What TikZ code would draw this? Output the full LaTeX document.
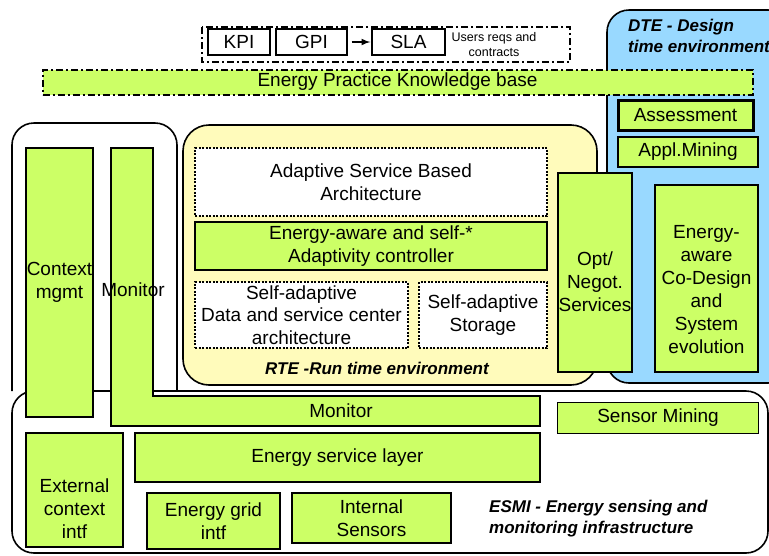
\documentclass[tikz,border=0pt]{standalone}
\usepackage{fontspec}
\setmainfont{Liberation Sans}
\usepackage{xcolor}
\usepackage{tikz}
\usetikzlibrary{arrows}

\definecolor{limegreen}{RGB}{204,255,102}
\definecolor{dteblue}{RGB}{153,217,255}
\definecolor{rteyellow}{RGB}{255,251,187}

\begin{document}
\begin{tikzpicture}[x=1pt,y=-1pt,
	box/.style={draw,fill=limegreen,line width=1.8pt,inner sep=0pt,align=center,font=\fontsize{19}{22.5}\selectfont},
	dotbox/.style={draw,fill=white,line width=2pt,dash pattern=on 2pt off 1.5pt,inner sep=0pt,align=center,font=\fontsize{19}{22.5}\selectfont},
	dashdot/.style={line width=2pt,dash pattern=on 7pt off 3pt on 2pt off 3pt},
	txt/.style={inner sep=0pt,align=center,font=\fontsize{19}{23}\selectfont},
	envlabel/.style={inner sep=0pt,align=left,font=\fontsize{17}{21}\selectfont\bfseries\itshape}]
\useasboundingbox (0,0) rectangle (769,555);
		% environments
		\coordinate (D1) at (607,10);
		\coordinate (D2) at (790,383);
		\coordinate (R1) at (183,125);
		\coordinate (R2) at (597,385);
		\coordinate (E1) at (12,391);
		\coordinate (E2) at (768,553);
		\draw[fill=dteblue,line width=1.6pt,rounded corners=22pt] (D1) rectangle (D2);
		\draw[fill=rteyellow,line width=1.6pt,rounded corners=26pt] (R1) rectangle (R2);
		\node[envlabel,anchor=west] (dte) at (628,36) {DTE - Design\\time environment};
		% indicators
		\draw[dashdot,fill=white] (202,27) rectangle (570,62);
		\node[box,fill=white,line width=1.4pt,minimum width=62pt,minimum height=26pt] (kpi) at (239,42) {KPI};
		\node[box,fill=white,line width=1.4pt,minimum width=71pt,minimum height=26pt] (gpi) at (311.5,42) {GPI};
		\node[box,fill=white,line width=1.4pt,minimum width=73pt,minimum height=26pt] (sla) at (408.5,42) {SLA};
		\draw[-latex,line width=2pt,shorten <=4pt,shorten >=1pt] (gpi) -- (sla);
		\node[txt,font=\fontsize{12.5}{15}\selectfont] (users) at (494,45) {Users reqs and\\contracts};
		\node[box,dashdot,minimum width=710pt,minimum height=25pt] (kb) at (397.5,82) {Energy Practice Knowledge base};
		% design time
		\node[box,line width=3pt,minimum width=135pt,minimum height=30pt] (assess) at (685.5,115) {Assessment};
		\node[box,minimum width=140pt,minimum height=30pt] (mining) at (688,152) {Appl.Mining};
		\node[box,minimum width=103pt,minimum height=187pt] (codesign) at (706.5,278.5) {};
		\node[txt] (codesignlbl) at (706.5,290) {Energy-\\aware\\Co-Design\\and\\System\\evolution};
		\node[box,minimum width=74pt,minimum height=199pt] (opt) at (595,272.5) {};
		\node[txt] (optlbl) at (595,282) {Opt/\\Negot.\\Services};
		% run time
		\node[dotbox,minimum width=352pt,minimum height=68pt] (asba) at (371,182) {Adaptive Service Based\\Architecture};
		\node[box,minimum width=352pt,minimum height=48pt] (ctrl) at (371,246) {Energy-aware and self-*\\Adaptivity controller};
		\node[dotbox,minimum width=213pt,minimum height=66pt] (data) at (301.5,315) {Self-adaptive\\Data and service center\\architecture};
		\node[dotbox,minimum width=128pt,minimum height=66pt] (storage) at (483,315) {Self-adaptive\\Storage};
		\node[envlabel,align=center] (rte) at (377,368) {RTE -Run time environment};
		% monitoring
		\draw[line width=1.6pt,rounded corners=22pt] (E1) -- (12,123) -- (177,123) -- (177,391);
		\draw[line width=1.6pt,rounded corners=22pt] (E1) rectangle (E2);
		\node[box,minimum width=67pt,minimum height=269pt] (context) at (59.5,282.5) {Context\\mgmt};
		\draw[fill=limegreen,line width=1.8pt] (111,148) -- (153,148) -- (153,396) -- (540,396) -- (540,426) -- (111,426) -- cycle;
		\node[txt] (monv) at (133,290) {Monitor};
		\node[txt] (monh) at (341,411) {Monitor};
		\node[box,minimum width=201pt,minimum height=31pt] (sensmin) at (658,418) {Sensor Mining};
		\node[box,minimum width=405pt,minimum height=49pt] (esl) at (337.5,457.5) {Energy service layer};
		\node[box,minimum width=97pt,minimum height=114pt] (ext) at (74.5,490) {};
		\node[txt] (extlbl) at (74.5,509) {External\\context\\intf};
		\node[box,minimum width=133pt,minimum height=56pt] (grid) at (213.5,521) {Energy grid\\intf};
		\node[box,minimum width=159pt,minimum height=50pt] (intsens) at (371.5,518) {Internal\\Sensors};
		\node[envlabel,anchor=west] (esmi) at (489,518.5) {ESMI - Energy sensing and\\monitoring infrastructure};
\end{tikzpicture}
\end{document}
